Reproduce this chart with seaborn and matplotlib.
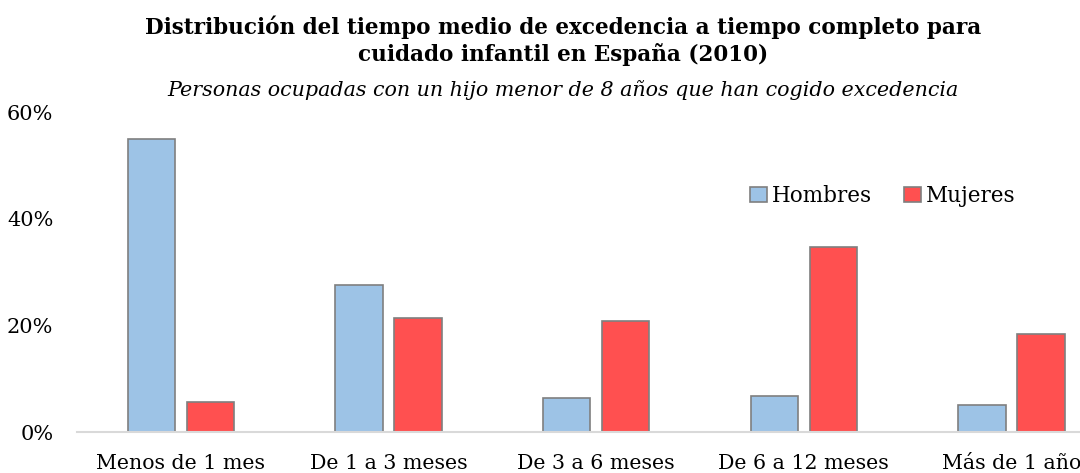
import matplotlib
matplotlib.use("Agg")
import matplotlib.pyplot as plt
import seaborn as sns
import pandas as pd

categorias = ["Menos de 1 mes", "De 1 a 3 meses", "De 3 a 6 meses", "De 6 a 12 meses", "Más de 1 año"]
hombres = [55.0, 27.6, 6.3, 6.8, 5.1]
mujeres = [5.6, 21.3, 20.9, 34.6, 18.4]
series = ["Hombres", "Mujeres"]
yticks = [0, 20, 40, 60]

sns.set_theme(style="white")
plt.rcParams["font.family"] = ["DejaVu Serif"]
plt.rcParams["text.color"] = "black"
plt.rcParams["xtick.color"] = "black"
plt.rcParams["ytick.color"] = "black"

df = pd.DataFrame({
    "categoria": categorias * 2,
    "valor": hombres + mujeres,
    "sexo": [series[0]] * len(categorias) + [series[1]] * len(categorias),
})

fig = plt.figure(figsize=(10.8, 4.73), dpi=100)
ax = fig.add_axes([77 / 1080, 1 - 432 / 473, 1 - 77 / 1080, (432 - 112) / 473])

sns.barplot(data=df, x="categoria", y="valor", hue="sexo", order=categorias,
            hue_order=series, palette=["#9DC3E6", "#FF5050"], width=0.57, gap=0.2,
            edgecolor="#7F7F7F", linewidth=1.2, saturation=1, ax=ax)

ax.set_xlim(-0.5, 4.33)
ax.set_ylim(0, 60)
ax.set_yticks(yticks)
ax.set_yticklabels([f"{t}%" for t in yticks], fontsize=15)
ax.tick_params(axis="x", labelsize=14.8, length=0, pad=16)
ax.tick_params(axis="y", length=0, pad=17)
ax.set_xlabel("")
ax.set_ylabel("")
for s in ["top", "right", "left"]:
    ax.spines[s].set_visible(False)
ax.spines["bottom"].set_color("#D9D9D9")
ax.spines["bottom"].set_linewidth(1.5)

leg = ax.legend(loc="center", frameon=False,
                ncol=2, fontsize=15.5, handlelength=0.75, handleheight=0.75,
                handletextpad=0.25, columnspacing=1.5)
leg.set_bbox_to_anchor(((883 - 77) / (1080 - 77), (432 - 196) / 320), transform=ax.transAxes)

cx = 563 / 1080
fig.text(cx, 1 - 27 / 473, "Distribución del tiempo medio de excedencia a tiempo completo para",
         ha="center", va="center", fontsize=15.5, fontweight="bold")
fig.text(cx, 1 - 55 / 473, "cuidado infantil en España (2010)",
         ha="center", va="center", fontsize=15.5, fontweight="bold")
fig.text(cx, 1 - 90 / 473, "Personas ocupadas con un hijo menor de 8 años que han cogido excedencia",
         ha="center", va="center", fontsize=14.9, style="italic")

fig.savefig("out.png", dpi=100)
